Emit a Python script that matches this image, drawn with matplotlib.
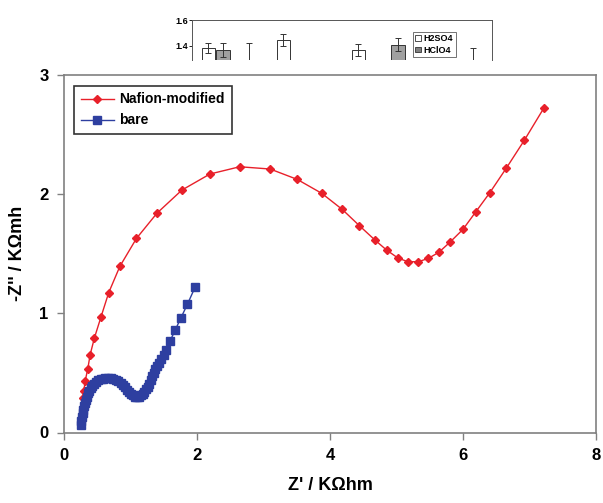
import matplotlib.pyplot as plt
import numpy as np

plt.rcParams['font.family'] = ['Liberation Sans', 'DejaVu Sans']

# Nafion-modified electrode (red diamonds)
nafion_x = [0.279, 0.299, 0.318, 0.358, 0.393, 0.458, 0.557, 0.672, 0.840, 1.090,
            1.399, 1.772, 2.194, 2.642, 3.100, 3.507, 3.876, 4.184, 4.443, 4.672,
            4.851, 5.022, 5.172, 5.328, 5.478, 5.637, 5.806, 6.000, 6.190, 6.403,
            6.652, 6.921, 7.213]
nafion_y = [0.287, 0.351, 0.432, 0.535, 0.653, 0.795, 0.971, 1.173, 1.394, 1.629,
            1.841, 2.034, 2.169, 2.230, 2.211, 2.124, 2.007, 1.872, 1.735, 1.617,
            1.531, 1.464, 1.433, 1.433, 1.461, 1.512, 1.598, 1.705, 1.850, 2.012,
            2.219, 2.451, 2.720]

# bare electrode (blue squares)
bare_x = [0.25, 0.26, 0.27, 0.28, 0.29, 0.30, 0.31, 0.325, 0.34, 0.36,
          0.38, 0.40, 0.42, 0.45, 0.48, 0.51, 0.55, 0.58, 0.62, 0.66,
          0.70, 0.74, 0.78, 0.81, 0.85, 0.88, 0.915, 0.945, 0.975, 1.005,
          1.035, 1.065, 1.095, 1.125, 1.16, 1.19, 1.21, 1.235, 1.26, 1.28,
          1.31, 1.33, 1.355, 1.37, 1.40, 1.43, 1.465, 1.50, 1.535, 1.595,
          1.67, 1.755, 1.855, 1.97]
bare_y = [0.06, 0.10, 0.13, 0.16, 0.19, 0.22, 0.245, 0.27, 0.30, 0.33,
          0.35, 0.37, 0.39, 0.41, 0.426, 0.438, 0.446, 0.453, 0.457, 0.457,
          0.455, 0.449, 0.44, 0.43, 0.418, 0.40, 0.38, 0.36, 0.342, 0.325,
          0.312, 0.302, 0.298, 0.302, 0.315, 0.327, 0.342, 0.362, 0.384, 0.41,
          0.44, 0.47, 0.50, 0.53, 0.558, 0.587, 0.617, 0.654, 0.692, 0.768,
          0.857, 0.958, 1.075, 1.218]

# fragment of another chart visible at the top of the picture
inset_pos = [1.1, 2.1, 3.9, 6.2, 11.3, 14.0, 19.1]
inset_val = [1.386, 1.37, 1.27, 1.446, 1.37, 1.41, 1.26]
inset_err = [0.04, 0.055, 0.15, 0.045, 0.045, 0.05, 0.125]
inset_col = ['white', '#a0a0a0', 'white', 'white', 'white', '#a0a0a0', 'white']

fig = plt.figure(figsize=(6.03, 5.03), dpi=100)

# top fragment
ax2 = fig.add_axes([192 / 603, (503 - 60) / 503, 300 / 603, 40 / 503])
ax2.bar(inset_pos, inset_val, width=0.9, color=inset_col, edgecolor='#333333', linewidth=0.7)
ax2.errorbar(inset_pos, inset_val, yerr=inset_err, fmt='none', ecolor='#333333',
             elinewidth=0.7, capsize=2.5, capthick=0.7)
ax2.set_xlim(0, 20.4)
ax2.set_ylim(1.292, 1.6)
ax2.set_yticks([1.4, 1.6])
ax2.set_yticklabels(['1.4', '1.6'], fontsize=6.5, fontweight='bold')
ax2.set_xticks([])
ax2.tick_params(axis='y', length=2, pad=1, width=0.6)
ax2.spines['bottom'].set_visible(False)
for s in ['top', 'left', 'right']:
    ax2.spines[s].set_color('#555555')
    ax2.spines[s].set_linewidth(0.7)
h1 = plt.Rectangle((0, 0), 1, 1, facecolor='white', edgecolor='#333333', linewidth=0.6)
h2 = plt.Rectangle((0, 0), 1, 1, facecolor='#808080', edgecolor='#333333', linewidth=0.6)
leg2 = ax2.legend([h1, h2], ['H2SO4', 'HClO4'], loc='upper left', bbox_to_anchor=(0.72, 0.82),
                  frameon=True, fancybox=False, edgecolor='#333333',
                  handlelength=0.6, handleheight=0.6, handletextpad=0.3,
                  borderpad=0.3, labelspacing=0.25, prop={'weight': 'bold', 'size': 6.5})
leg2.get_frame().set_linewidth(0.6)

# main chart
ax = fig.add_axes([64 / 603, (503 - 432.5) / 503, 532 / 603, 357.5 / 503])
ax.plot(nafion_x, nafion_y, color='#e8202a', marker='D', markersize=4.2,
        linewidth=1, label='Nafion-modified')
ax.plot(bare_x, bare_y, color='#2e3fa0', marker='s', markersize=5.5,
        linewidth=1, label='bare')

ax.set_xlim(0, 8)
ax.set_ylim(0, 3)
ax.set_xticks([0, 2, 4, 6, 8])
ax.set_yticks([0, 1, 2, 3])
for s in ax.spines.values():
    s.set_color('#808080')
    s.set_linewidth(1.2)
ax.tick_params(direction='out', length=5, width=1, color='#808080',
               labelsize=12, pad=6)
for lab in ax.get_xticklabels() + ax.get_yticklabels():
    lab.set_fontweight('bold')

ax.set_xlabel("Z' / K\u03a9hm", fontsize=13, fontweight='bold', labelpad=10)
ax.set_ylabel("-Z'' / K\u03a9mh", fontsize=13, fontweight='bold', labelpad=10)

leg = ax.legend(loc='upper left', bbox_to_anchor=(0.005, 0.99), frameon=True,
                fancybox=False, edgecolor='black', handlelength=2.4,
                prop={'weight': 'bold', 'size': 10}, borderpad=0.5,
                labelspacing=0.5, handletextpad=0.4)
leg.get_frame().set_linewidth(1.2)

plt.savefig('out.png', dpi=100)
